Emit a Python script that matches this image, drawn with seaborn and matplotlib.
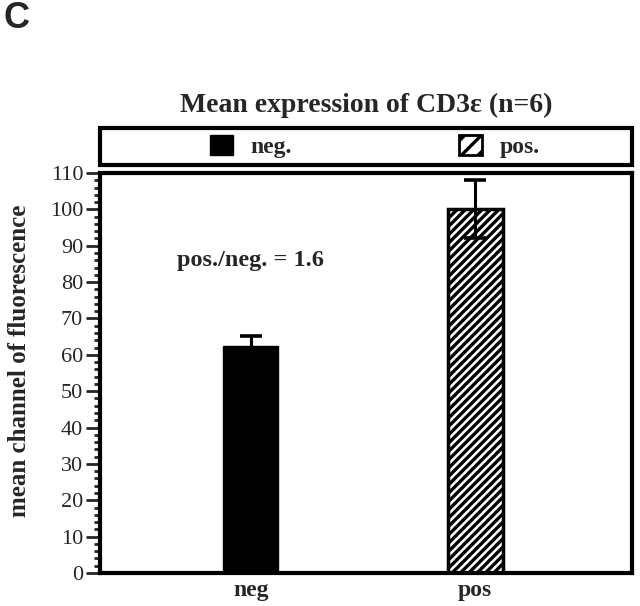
import matplotlib
matplotlib.use("Agg")
import matplotlib.pyplot as plt
import seaborn as sns
import pandas as pd
from matplotlib.patches import Patch, Rectangle
from matplotlib.ticker import MultipleLocator

groups = ["neg", "pos"]
means = [62.3, 100.0]
errors = [3.0, 8.0]
legend_labels = ["neg.", "pos."]
ratio_text = "pos./neg. = 1.6"

sns.set_theme(style="white")
plt.rcParams["font.family"] = ["Liberation Serif", "DejaVu Serif"]
plt.rcParams["hatch.linewidth"] = 2.4

df = pd.DataFrame({"group": groups, "mean": means})

fig = plt.figure(figsize=(6.4, 6.06), dpi=100)
ax = fig.add_axes([0.156, 0.0545, 0.8315, 0.66])

sns.barplot(data=df, x="group", y="mean", color="black", width=0.245,
            saturation=1, errorbar=None, ax=ax)
bars = ax.patches
bars[0].set_facecolor("black")
bars[0].set_edgecolor("black")
bars[1].set_facecolor("white")
bars[1].set_edgecolor("black")
bars[1].set_hatch("////")
bars[1].set_linewidth(2.5)
for b in bars:
    b.set_zorder(2)

ax.errorbar(range(len(groups)), means, yerr=errors, fmt="none", ecolor="black",
            elinewidth=2.2, capsize=8, capthick=2.6, zorder=3)

ax.set_xlim(-0.674, 1.70)
ax.set_ylim(0, 110)
ax.yaxis.set_major_locator(MultipleLocator(10))
ax.yaxis.set_minor_locator(MultipleLocator(2))
ax.tick_params(axis="y", which="major", direction="out", length=10, width=2,
               left=True, labelsize=16, pad=2)
ax.tick_params(axis="y", which="minor", direction="out", length=4, width=2, left=True)
ax.tick_params(axis="x", length=0, pad=5)
for lab in ax.get_xticklabels():
    lab.set_fontweight("bold")
    lab.set_fontsize(17)
for s in ax.spines.values():
    s.set_linewidth(3)
    s.set_color("black")

ax.set_xlabel("")
ax.set_ylabel("mean channel of fluorescence", fontsize=18, fontweight="bold")
ax.yaxis.set_label_coords(-0.13, 0.531)

ax.text(0.0, 86, ratio_text, ha="center", va="center", fontsize=17.5, fontweight="bold")

# legend box above the axes
ax.add_patch(Rectangle((0, 1.02), 1, 0.092, transform=ax.transAxes, fill=False,
                       edgecolor="black", linewidth=3, clip_on=False))
handles = [Patch(facecolor="black", edgecolor="black"),
           Patch(facecolor="white", edgecolor="black", hatch="//", linewidth=2)]
ax.legend(handles, legend_labels, loc="center", bbox_to_anchor=(0.517, 1.066), ncol=2,
          frameon=False, columnspacing=7.1, handlelength=0.95, handleheight=0.95,
          handletextpad=0.75, prop={"weight": "bold", "size": 17})

ax.set_title("Mean expression of CD3\u03b5 (n=6)", fontsize=20, fontweight="bold", pad=44)

fig.text(0.005, 0.97, "C", fontsize=26, fontweight="bold", family="Liberation Sans",
         ha="left", va="center")

fig.savefig("out.png", dpi=100)
